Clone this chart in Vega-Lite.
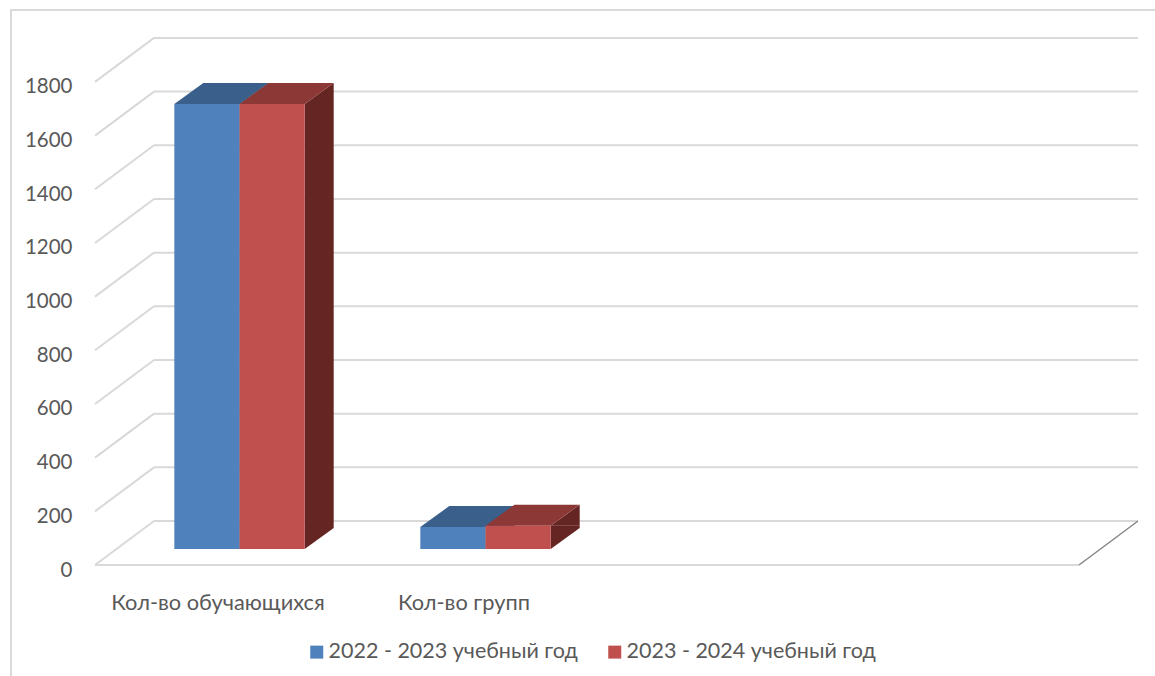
{
"$schema":"https://vega.github.io/schema/vega-lite/v6.json",
"width":1146,"height":668,
"autosize":{"type":"none"},
"padding":{"left":11,"top":10,"right":0,"bottom":0},
"background":"white",
"config":{"view":{"stroke":"#d9d9d9","strokeWidth":2},"font":"Lato"},
"datasets":{
"bars":[
{"category":"Кол-во обучающихся","series":"2022 - 2023 учебный год","value":1658,"from":0.235,"to":0.5},
{"category":"Кол-во обучающихся","series":"2023 - 2024 учебный год","value":1658,"from":0.5,"to":0.765},
{"category":"Кол-во групп","series":"2022 - 2023 учебный год","value":82,"from":1.235,"to":1.5},
{"category":"Кол-во групп","series":"2023 - 2024 учебный год","value":87,"from":1.5,"to":1.765}
],
"ticks":[{"tick":0},{"tick":200},{"tick":400},{"tick":600},{"tick":800},{"tick":1000},{"tick":1200},{"tick":1400},{"tick":1600},{"tick":1800}],
"cats":[{"category":"Кол-во обучающихся","center":0.5},{"category":"Кол-во групп","center":1.5}]
},
"layer":[
{"data":{"name":"ticks"},
"mark":{"type":"rule","stroke":"#d9d9d9","strokeWidth":2,"x2Offset":59,"y2Offset":-44},
"encoding":{
"x":{"datum":0,"type":"quantitative","scale":{"domain":[-0.3415,4.317],"nice":false,"zero":false},"axis":null},
"x2":{"datum":0},
"y":{"field":"tick","type":"quantitative","scale":{"domain":[-421,2068],"nice":false,"zero":false},
"axis":{"orient":"left","offset":-61,"values":[0,200,400,600,800,1000,1200,1400,1600,1800],"format":"d","title":null,"domain":false,"ticks":false,"grid":false,"labelPadding":0,"labelOffset":5,"labelFont":"Lato","labelFontSize":20.5,"labelColor":"#595959"}},
"y2":{"field":"tick"}
}},
{"data":{"name":"ticks"},
"mark":{"type":"rule","stroke":"#d9d9d9","strokeWidth":2,"xOffset":59,"x2Offset":59,"yOffset":-44,"y2Offset":-44},
"encoding":{
"x":{"datum":0,"type":"quantitative"},
"x2":{"datum":4},
"y":{"field":"tick","type":"quantitative"},
"y2":{"field":"tick"}
}},
{"data":{"values":[{"tick":0}]},
"mark":{"type":"rule","stroke":"#d9d9d9","strokeWidth":2},
"encoding":{
"x":{"datum":0,"type":"quantitative"},
"x2":{"datum":4},
"y":{"field":"tick","type":"quantitative"}
}},
{"data":{"values":[{"tick":0}]},
"mark":{"type":"rule","stroke":"#868686","strokeWidth":1.5,"x2Offset":59,"y2Offset":-44},
"encoding":{
"x":{"datum":4,"type":"quantitative"},
"x2":{"datum":4},
"y":{"field":"tick","type":"quantitative"},
"y2":{"field":"tick"}
}},
{"data":{"name":"bars"},
"mark":{"type":"rect","xOffset":21.5,"x2Offset":50.5,"yOffset":-16,"y2Offset":-37},
"encoding":{
"x":{"field":"to","type":"quantitative"},
"x2":{"field":"to"},
"y":{"field":"value","type":"quantitative"},
"y2":{"datum":0},
"fill":{"condition":{"test":"datum.series=='2022 - 2023 учебный год'","value":"#2c4d75"},"value":"#652623"}
}},
{"data":{"name":"bars"},
"mark":{"type":"point","filled":true,"size":4,"opacity":1,"strokeWidth":0,"shape":"M0,0 L29,0 L29,-21 Z","xOffset":21.5,"yOffset":-16},
"encoding":{
"x":{"field":"to","type":"quantitative"},
"y":{"field":"value","type":"quantitative"},
"fill":{"condition":{"test":"datum.series=='2022 - 2023 учебный год'","value":"#2c4d75"},"value":"#652623"}
}},
{"data":{"name":"bars"},
"mark":{"type":"point","filled":true,"size":4,"opacity":1,"strokeWidth":0,"shape":"M0,0 L0,-21 L29,-21 Z","xOffset":21.5,"yOffset":-16},
"encoding":{
"x":{"field":"to","type":"quantitative"},
"y":{"datum":0,"type":"quantitative"},
"fill":{"condition":{"test":"datum.series=='2022 - 2023 учебный год'","value":"#2c4d75"},"value":"#652623"}
}},
{"data":{"name":"bars"},
"mark":{"type":"point","filled":true,"size":4,"opacity":1,"strokeWidth":0,"shape":"M0,0 L65.2,0 L94.2,-21 L29,-21 Z","xOffset":21.5,"yOffset":-16},
"encoding":{
"x":{"field":"from","type":"quantitative"},
"y":{"field":"value","type":"quantitative"},
"fill":{"condition":{"test":"datum.series=='2022 - 2023 учебный год'","value":"#3a5f8b"},"value":"#8c3836"}
}},
{"data":{"name":"bars"},
"mark":{"type":"rect","xOffset":21.5,"x2Offset":21.5,"yOffset":-16,"y2Offset":-16},
"encoding":{
"x":{"field":"from","type":"quantitative"},
"x2":{"field":"to"},
"y":{"field":"value","type":"quantitative"},
"y2":{"datum":0},
"color":{"field":"series","type":"nominal","scale":{"domain":["2022 - 2023 учебный год","2023 - 2024 учебный год"],"range":["#4f81bd","#c0504d"]},
"legend":{"orient":"none","legendX":295,"legendY":631,"direction":"horizontal","columns":2,"title":null,"symbolType":"square","symbolSize":169,"symbolStrokeWidth":0,"labelFont":"Lato","labelFontSize":21.5,"labelLimit":400,"labelColor":"#595959","columnPadding":26,"labelOffset":1}}
}},
{"data":{"name":"cats"},
"mark":{"type":"text","font":"Lato","fontSize":21.8,"fill":"#595959","baseline":"middle"},
"encoding":{
"x":{"field":"center","type":"quantitative"},
"y":{"datum":-143},
"text":{"field":"category"}
}}
]
}
